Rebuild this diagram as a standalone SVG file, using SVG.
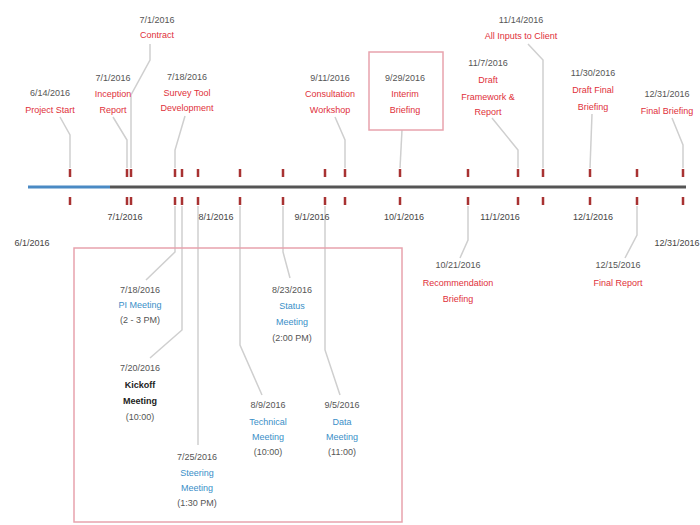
<svg xmlns="http://www.w3.org/2000/svg" width="700" height="525" viewBox="0 0 700 525">
<style>
text{font-family:"Liberation Sans",Arial,sans-serif;font-size:9px;text-anchor:middle}
.d{fill:#555}
.r{fill:#e0303a}
.b{fill:#3a8fc8}
.k{fill:#222;font-weight:bold}
.ax{fill:#444}
.ld{fill:none;stroke:#cfcfcf;stroke-width:1.5}
.tk{stroke:#a83232;stroke-width:2.5}
.bx{fill:none;stroke:#e8a3ad;stroke-width:1.5}
</style>
<rect width="700" height="525" fill="#fff"/>
<g id="connectors">
<path class="ld" d="M60 117 L70 135 L70 168"/>
<path class="ld" d="M113 117 L127 140 L127 168"/>
<path class="ld" d="M150 44 L150 60 L131 95 L131 168"/>
<path class="ld" d="M185 116 L175 150 L175 168"/>
<path class="ld" d="M335 117 L345 140 L345 168"/>
<path class="ld" d="M402 130 L400 168"/>
<path class="ld" d="M492 118 L518 150 L518 168"/>
<path class="ld" d="M528 44 L543 60 L543 168"/>
<path class="ld" d="M592 114 L590 168"/>
<path class="ld" d="M672 118 L683 145 L683 168"/>
<path class="ld" d="M468 206 L468 240 L460 258"/>
<path class="ld" d="M637 206 L637 235 L625 258"/>
<path class="ld" d="M175 206 L175 252 L146 280"/>
<path class="ld" d="M182 206 L182 330 L150 358"/>
<path class="ld" d="M198 206 L198 445"/>
<path class="ld" d="M240 206 L240 345 L262 395"/>
<path class="ld" d="M283 206 L283 252 L290 278"/>
<path class="ld" d="M325 206 L325 350 L340 395"/>
</g>
<g id="axis">
<line x1="110" y1="187" x2="686" y2="187" stroke="#555" stroke-width="3"/>
<line x1="28" y1="187" x2="110" y2="187" stroke="#4a8ac4" stroke-width="3"/>
<g class="tk">
<path d="M70 169V177M70 197V205"/>
<path d="M127 169V177M127 197V205M131 169V177M131 197V205"/>
<path d="M175 169V177M175 197V205M182 169V177M182 197V205"/>
<path d="M198 169V177M198 197V205M240 169V177M240 197V205"/>
<path d="M283 169V177M283 197V205M325 169V177M325 197V205"/>
<path d="M345 169V177M345 197V205M400 169V177M400 197V205"/>
<path d="M468 169V177M468 197V205M518 169V177M518 197V205"/>
<path d="M543 169V177M543 197V205M590 169V177M590 197V205"/>
<path d="M637 169V177M637 197V205M683 169V177M683 197V205"/>
</g>
<text class="ax" x="32" y="246">6/1/2016</text>
<text class="ax" x="125" y="220">7/1/2016</text>
<text class="ax" x="216" y="220">8/1/2016</text>
<text class="ax" x="312" y="220">9/1/2016</text>
<text class="ax" x="404" y="220">10/1/2016</text>
<text class="ax" x="500" y="220">11/1/2016</text>
<text class="ax" x="593" y="220">12/1/2016</text>
<text class="ax" x="677" y="246">12/31/2016</text>
</g>
<g id="n1"><text class="d" x="50" y="96">6/14/2016</text><text class="r" x="50" y="113">Project Start</text></g>
<g id="n2"><text class="d" x="113" y="81">7/1/2016</text><text class="r" x="113" y="97">Inception</text><text class="r" x="113" y="113">Report</text></g>
<g id="n3"><text class="d" x="157" y="23">7/1/2016</text><text class="r" x="157" y="38">Contract</text></g>
<g id="n4"><text class="d" x="187" y="80">7/18/2016</text><text class="r" x="187" y="96">Survey Tool</text><text class="r" x="187" y="111">Development</text></g>
<g id="n5"><text class="d" x="330" y="81">9/11/2016</text><text class="r" x="330" y="97">Consultation</text><text class="r" x="330" y="113">Workshop</text></g>
<g id="n6"><rect class="bx" x="369" y="52" width="74" height="78"/><text class="d" x="405" y="81">9/29/2016</text><text class="r" x="405" y="97">Interim</text><text class="r" x="405" y="113">Briefing</text></g>
<g id="n7"><text class="d" x="488" y="66">11/7/2016</text><text class="r" x="488" y="83">Draft</text><text class="r" x="488" y="100">Framework &amp;</text><text class="r" x="488" y="115">Report</text></g>
<g id="n8"><text class="d" x="521" y="23">11/14/2016</text><text class="r" x="521" y="39">All Inputs to Client</text></g>
<g id="n9"><text class="d" x="593" y="76">11/30/2016</text><text class="r" x="593" y="93">Draft Final</text><text class="r" x="593" y="110">Briefing</text></g>
<g id="n10"><text class="d" x="667" y="97">12/31/2016</text><text class="r" x="667" y="114">Final Briefing</text></g>
<g id="n11"><text class="d" x="458" y="268">10/21/2016</text><text class="r" x="458" y="286">Recommendation</text><text class="r" x="458" y="302">Briefing</text></g>
<g id="n12"><text class="d" x="618" y="268">12/15/2016</text><text class="r" x="618" y="286">Final Report</text></g>
<g id="meetings"><rect class="bx" x="74" y="248" width="328" height="274"/></g>
<g id="m1"><text class="d" x="140" y="293">7/18/2016</text><text class="b" x="140" y="308">PI Meeting</text><text class="d" x="140" y="323">(2 - 3 PM)</text></g>
<g id="m2"><text class="d" x="140" y="371">7/20/2016</text><text class="k" x="140" y="388">Kickoff</text><text class="k" x="140" y="404">Meeting</text><text class="d" x="140" y="420">(10:00)</text></g>
<g id="m3"><text class="d" x="197" y="460">7/25/2016</text><text class="b" x="197" y="476">Steering</text><text class="b" x="197" y="491">Meeting</text><text class="d" x="197" y="506">(1:30 PM)</text></g>
<g id="m4"><text class="d" x="292" y="293">8/23/2016</text><text class="b" x="292" y="309">Status</text><text class="b" x="292" y="325">Meeting</text><text class="d" x="292" y="341">(2:00 PM)</text></g>
<g id="m5"><text class="d" x="268" y="408">8/9/2016</text><text class="b" x="268" y="425">Technical</text><text class="b" x="268" y="440">Meeting</text><text class="d" x="268" y="455">(10:00)</text></g>
<g id="m6"><text class="d" x="342" y="408">9/5/2016</text><text class="b" x="342" y="425">Data</text><text class="b" x="342" y="440">Meeting</text><text class="d" x="342" y="455">(11:00)</text></g>
</svg>
